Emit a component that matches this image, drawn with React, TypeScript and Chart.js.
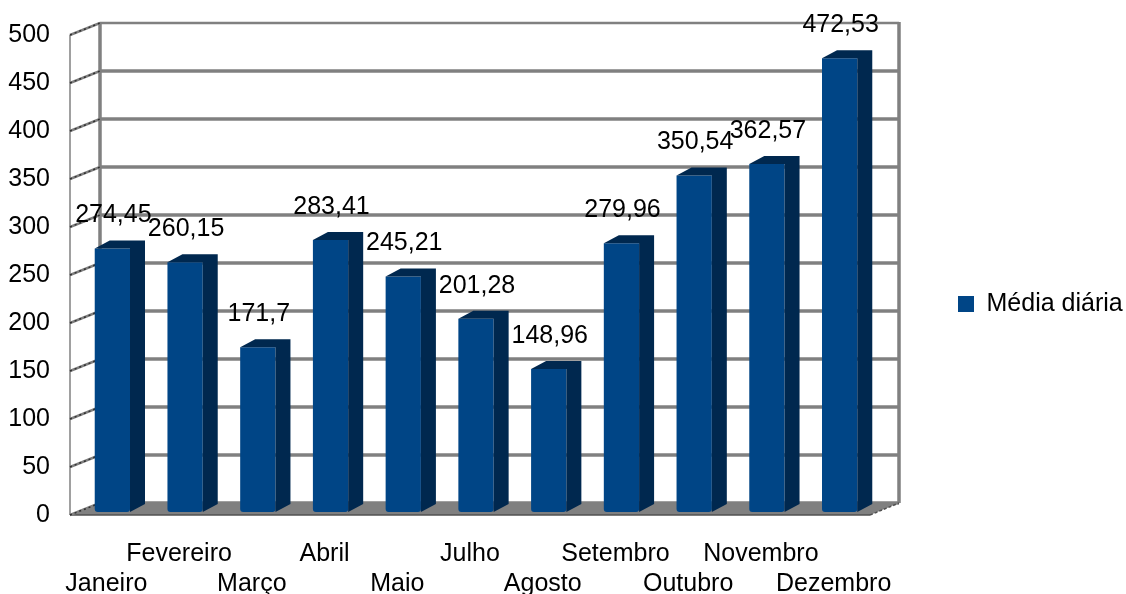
import React, { useEffect, useRef } from "react";
import { Chart, registerables } from "chart.js";

Chart.register(...registerables);

const months = ["Janeiro", "Fevereiro", "Março", "Abril", "Maio", "Julho", "Agosto", "Setembro", "Outubro", "Novembro", "Dezembro"];
const dailyAverage = [274.45, 260.15, 171.7, 283.41, 245.21, 201.28, 148.96, 279.96, 350.54, 362.57, 472.53];
const seriesName = "Média diária";

const FONT = "'Liberation Sans', Arial, sans-serif";
const FONT_SIZE = 25;
const GREY = "#808080";
const EDGE = "#505050";
const FRONT = "#004586";
const DARK = "#00284f";
// Depth of the pseudo-3D walls, and of the bars inside them
const WALL_DX = 30;
const WALL_DY = -12;
const BAR_SHIFT_X = 6;
const BAR_SHIFT_Y = -3;
const BAR_DX = 15;
const BAR_DY = -8;

const walls = {
  id: "walls",
  beforeDatasetsDraw(chart: any) {
    const { ctx, chartArea: a } = chart;
    const y = chart.scales.y;
    const y0 = y.getPixelForValue(0);
    const y500 = y.getPixelForValue(500);
    ctx.save();
    ctx.fillStyle = GREY;
    ctx.beginPath();
    ctx.moveTo(a.left, y0);
    ctx.lineTo(a.right, y0);
    ctx.lineTo(a.right + WALL_DX - 1, y0 + WALL_DY);
    ctx.lineTo(a.left + WALL_DX, y0 + WALL_DY);
    ctx.closePath();
    ctx.fill();
    ctx.strokeStyle = GREY;
    for (const t of y.ticks) {
      const py = y.getPixelForValue(t.value) + WALL_DY;
      ctx.lineWidth = t.value === 500 ? 2.5 : 3.5;
      ctx.beginPath();
      ctx.moveTo(a.left + WALL_DX, py);
      ctx.lineTo(a.right + WALL_DX - 1, py);
      ctx.stroke();
    }
    ctx.lineWidth = 3.5;
    ctx.beginPath();
    ctx.moveTo(a.left + WALL_DX, y500 + WALL_DY - 1);
    ctx.lineTo(a.left + WALL_DX, y0 + WALL_DY);
    ctx.moveTo(a.right + WALL_DX - 1, y500 + WALL_DY - 1);
    ctx.lineTo(a.right + WALL_DX - 1, y0 + WALL_DY);
    ctx.stroke();
    ctx.lineWidth = 1.5;
    ctx.beginPath();
    ctx.moveTo(a.left, y500);
    ctx.lineTo(a.left, y0);
    ctx.stroke();
    // front edge of the floor and its jagged right edge
    ctx.strokeStyle = EDGE;
    ctx.lineWidth = 1.5;
    ctx.beginPath();
    ctx.moveTo(a.left, y0);
    ctx.lineTo(a.right, y0);
    ctx.stroke();
    ctx.setLineDash([3, 2]);
    ctx.beginPath();
    ctx.moveTo(a.right, y0);
    ctx.lineTo(a.right + WALL_DX - 1, y0 + WALL_DY);
    ctx.stroke();
    // grid lines crossing the left wall
    for (const t of y.ticks) {
      const py = y.getPixelForValue(t.value);
      ctx.setLineDash([]);
      ctx.strokeStyle = GREY;
      ctx.lineWidth = 2.5;
      ctx.beginPath();
      ctx.moveTo(a.left, py);
      ctx.lineTo(a.left + WALL_DX, py + WALL_DY);
      ctx.stroke();
      ctx.setLineDash([2, 3]);
      ctx.strokeStyle = "#303030";
      ctx.lineWidth = 1.5;
      ctx.beginPath();
      ctx.moveTo(a.left, py);
      ctx.lineTo(a.left + WALL_DX, py + WALL_DY);
      ctx.stroke();
    }
    ctx.restore();
    // bars sit slightly inside the box
    ctx.save();
    ctx.translate(BAR_SHIFT_X, BAR_SHIFT_Y);
  },
  afterDatasetsDraw(chart: any) {
    const { ctx } = chart;
    const meta = chart.getDatasetMeta(0);
    for (const bar of meta.data) {
      const { x, y, base, width } = bar.getProps(["x", "y", "base", "width"], true);
      const r = x + width / 2;
      const l = x - width / 2;
      ctx.fillStyle = DARK;
      ctx.beginPath();
      ctx.moveTo(l, y);
      ctx.lineTo(l + BAR_DX, y + BAR_DY);
      ctx.lineTo(r + BAR_DX, y + BAR_DY);
      ctx.lineTo(r + BAR_DX, base + BAR_DY);
      ctx.lineTo(r, base);
      ctx.lineTo(r, y);
      ctx.closePath();
      ctx.fill();
    }
    ctx.restore();
    ctx.save();
    ctx.font = `${FONT_SIZE}px ${FONT}`;
    ctx.fillStyle = "#000";
    ctx.textAlign = "center";
    ctx.textBaseline = "middle";
    meta.data.forEach((bar: any, i: number) => {
      const { x, y } = bar.getProps(["x", "y"], true);
      ctx.fillText(String(dailyAverage[i]).replace(".", ","), x + BAR_SHIFT_X + 1, y + BAR_SHIFT_Y - 33);
    });
    ctx.restore();
  },
  afterLayout(chart: any) {
    const lg = chart.legend;
    const w = lg.right - lg.left;
    lg.left = 948;
    lg.right = 948 + w;
    lg.top -= 9;
    lg.bottom -= 9;
  },
};

export default function App() {
  const ref = useRef<HTMLCanvasElement>(null);
  useEffect(() => {
    const chart = new Chart(ref.current!, {
      type: "bar",
      plugins: [walls],
      data: {
        labels: months,
        datasets: [{
          label: seriesName,
          data: dailyAverage,
          backgroundColor: FRONT,
          barPercentage: 0.485,
          categoryPercentage: 1,
          borderRadius: { topLeft: 0, topRight: 0, bottomLeft: 3, bottomRight: 3 },
          borderSkipped: false,
        }],
      },
      options: {
        responsive: false,
        animation: false,
        layout: { padding: { top: 32, right: 0, left: 0, bottom: 0 } },
        scales: {
          x: {
            grid: { display: false },
            border: { display: false },
            afterFit(s: any) { s.height = 79; },
            ticks: {
              autoSkip: false,
              maxRotation: 0,
              minRotation: 0,
              padding: 16,
              color: "#000",
              font: { family: FONT, size: FONT_SIZE, lineHeight: 1.2 },
              callback(_v: any, i: number) {
                return i % 2 === 0 ? ["", months[i]] : [months[i], ""];
              },
            },
          },
          y: {
            min: 0,
            max: 500,
            afterFit(s: any) { s.width = 70; },
            grid: { display: false, drawTicks: false },
            border: { display: false },
            ticks: { stepSize: 50, padding: 20, color: "#000", font: { family: FONT, size: FONT_SIZE } },
          },
        },
        plugins: {
          tooltip: { enabled: false },
          legend: {
            position: "right",
            labels: { boxWidth: 16, boxHeight: 16, padding: 10, color: "#000", font: { family: FONT, size: FONT_SIZE } },
          },
        },
      },
    });
    (chart.options.layout as any).padding.right = 256 - chart.legend!.width;
    chart.update();
    return () => chart.destroy();
  }, []);
  return <canvas ref={ref} width={1126} height={594} style={{ position: "absolute", left: 0, top: 0 }} />;
}
